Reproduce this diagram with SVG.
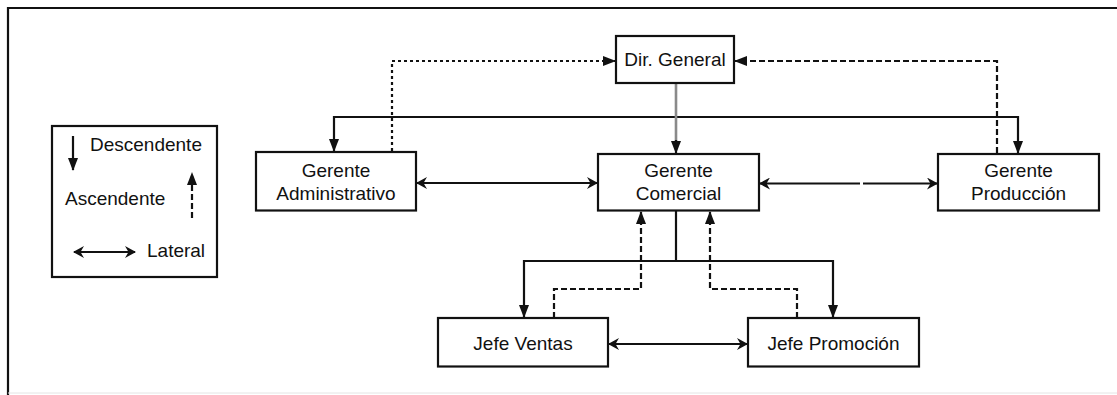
<svg xmlns="http://www.w3.org/2000/svg" width="1117" height="395" viewBox="0 0 1117 395">
<style>
.box{fill:#fff;stroke:#111;stroke-width:2.2}
.t{font-family:"Liberation Sans",Arial,sans-serif;font-size:19px;fill:#111;text-anchor:middle}
.tl{font-family:"Liberation Sans",Arial,sans-serif;font-size:19px;fill:#111}
.c{fill:none;stroke:#111;stroke-width:2.2}
.dash{stroke-dasharray:6,3}
.dot{stroke-dasharray:3,3}
.gray{fill:none;stroke:#8a8a8a;stroke-width:2.6}
</style>
<defs>
<marker id="tri" viewBox="0 0 13 10" refX="12" refY="5" markerWidth="13" markerHeight="10" markerUnits="userSpaceOnUse" orient="auto">
<path d="M0,0 L13,5 L0,10 z" fill="#111"/>
</marker>
<marker id="barb" viewBox="0 0 11 12" refX="10" refY="6" markerWidth="11" markerHeight="12" markerUnits="userSpaceOnUse" orient="auto-start-reverse">
<path d="M0,0 L11,6 L0,12 L3.5,6 z" fill="#111"/>
</marker>
</defs>
<path d="M8,395 V8 H1117" fill="none" stroke="#111" stroke-width="2.2"/>
<line x1="8" y1="393" x2="1117" y2="393" stroke="#e4e4e4" stroke-width="1"/>

<g id="legend">
<rect class="box" x="52" y="126" width="165" height="151"/>
<path class="c" d="M73,136 V170" marker-end="url(#tri)"/>
<text class="tl" x="90" y="151">Descendente</text>
<text class="tl" x="65" y="205">Ascendente</text>
<path class="c dash" d="M192,218 V173" marker-end="url(#tri)"/>
<path class="c" d="M74,252 H135" marker-start="url(#barb)" marker-end="url(#barb)"/>
<text class="tl" x="147" y="257">Lateral</text>
</g>

<g id="connectors">
<path class="c" d="M676,117 H334 V151" marker-end="url(#tri)"/>
<path class="c" d="M676,117 H1018 V153" marker-end="url(#tri)"/>
<path class="gray" d="M676,84 V141"/>
<path class="c" d="M676,140 V153" stroke-width="0.1" marker-end="url(#tri)"/>
<path class="c dot" d="M392,151 V61 H615" marker-end="url(#tri)"/>
<path class="c dash" d="M997,153 V61 H735" marker-end="url(#tri)"/>
<path class="c" d="M417,183 H597" marker-start="url(#barb)" marker-end="url(#barb)"/>
<path class="c" d="M760,183.5 H860 M863,183.5 H937" marker-start="url(#barb)" marker-end="url(#barb)"/>
<path class="c" d="M676,211 V261 H524 V317" marker-end="url(#tri)"/>
<path class="c" d="M676,261 H833 V317" marker-end="url(#tri)"/>
<path class="c dash" d="M554,318 V289 H641 V212" marker-end="url(#tri)"/>
<path class="c dash" d="M797,318 V289 H710 V212" marker-end="url(#tri)"/>
<path class="c" d="M609,344 H747" marker-start="url(#barb)" marker-end="url(#barb)"/>
</g>

<g id="dir-general">
<rect class="box" x="616" y="36" width="118" height="47"/>
<text class="t" x="675" y="66">Dir. General</text>
</g>
<g id="gerente-administrativo">
<rect class="box" x="256" y="152" width="160" height="58.5"/>
<text class="t" x="336" y="177">Gerente</text>
<text class="t" x="336" y="200">Administrativo</text>
</g>
<g id="gerente-comercial">
<rect class="box" x="598" y="154" width="161" height="56.5"/>
<text class="t" x="678.5" y="177">Gerente</text>
<text class="t" x="678.5" y="200">Comercial</text>
</g>
<g id="gerente-produccion">
<rect class="box" x="938" y="154" width="161" height="56.5"/>
<text class="t" x="1018.5" y="177">Gerente</text>
<text class="t" x="1018.5" y="200">Producción</text>
</g>
<g id="jefe-ventas">
<rect class="box" x="438" y="318" width="170" height="48.5"/>
<text class="t" x="523" y="350">Jefe Ventas</text>
</g>
<g id="jefe-promocion">
<rect class="box" x="748" y="318" width="171" height="48.5"/>
<text class="t" x="833.5" y="350">Jefe Promoción</text>
</g>
</svg>
